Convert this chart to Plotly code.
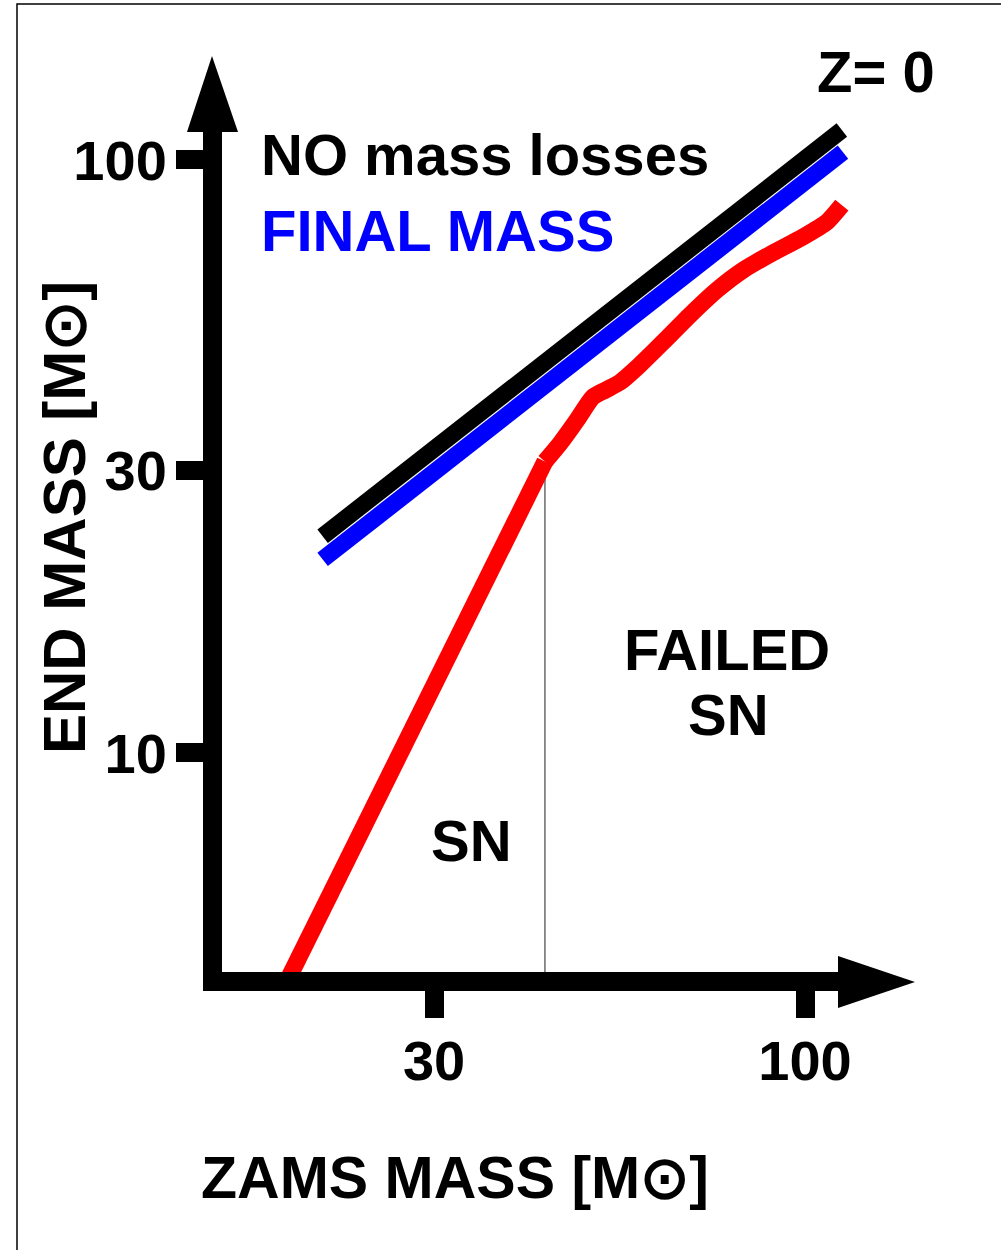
import plotly.graph_objects as go

# Z = 0 stars: ZAMS mass vs. mass at the end of the life (solar masses)
zams_no_loss = [20.9, 112.7]
end_no_loss = [23.2, 112.3]

zams_final = [20.9, 113.1]
end_final = [21.2, 103.1]

zams_sn = [18.6, 43.0]
end_sn = [4.11, 31.0]

zams_failed = [43.0, 45.2, 47.7, 50.2, 52.3, 54.9, 58.5, 63.1, 68.9, 75.2, 81.8, 90.1, 99.4, 107.4, 112.7]
end_failed = [31.0, 33.3, 36.4, 39.8, 40.9, 42.2, 45.1, 49.3, 54.8, 60.4, 65.2, 69.7, 74.2, 78.6, 83.9]

sn_boundary_zams = 43.0
sn_boundary_end = [4.0, 31.0]

x_tickvals = [30, 100]
x_ticktext = ["30", "100"]
y_tickvals = [10, 30, 100]
y_ticktext = ["10", "30", "100"]

# page and plot box, in pixels
W, H = 1001, 1250
L, R, T, B = 222, 860, 110, 972

FONT = "Liberation Sans, Arial, sans-serif"


def fx(p):
    return (p - L) / (R - L)


def fy(p):
    return (B - p) / (B - T)


fig = go.Figure()

fig.add_trace(go.Scatter(x=[sn_boundary_zams, sn_boundary_zams], y=sn_boundary_end,
                         mode="lines", line=dict(color="#444444", width=1.2),
                         hoverinfo="skip"))
fig.add_trace(go.Scatter(x=zams_no_loss, y=end_no_loss, mode="lines",
                         line=dict(color="#000000", width=17), name="NO mass losses"))
fig.add_trace(go.Scatter(x=zams_final, y=end_final, mode="lines",
                         line=dict(color="#0000ff", width=17), name="FINAL MASS"))
fig.add_trace(go.Scatter(x=zams_sn, y=end_sn, mode="lines",
                         line=dict(color="#ff0000", width=17), name="SN"))
fig.add_trace(go.Scatter(x=zams_failed, y=end_failed, mode="lines",
                         line=dict(color="#ff0000", width=17, shape="spline", smoothing=0.6),
                         name="FAILED SN"))

axis_common = dict(
    type="log", showgrid=False, zeroline=False,
    showline=True, linewidth=19, linecolor="#000000",
    ticks="outside", ticklen=27, tickwidth=19, tickcolor="#000000",
    tickfont=dict(family=FONT, size=56, color="#000000", weight="bold"),
)

fig.update_xaxes(range=[1.1783, 2.0775], tickvals=x_tickvals, ticktext=x_ticktext,
                 ticklabelstandoff=-5, **axis_common)
fig.update_yaxes(range=[0.6306, 2.0842], tickvals=y_tickvals, ticktext=y_ticktext,
                 ticklabelstandoff=-2, **axis_common)


def label(text, x, y, size=58, color="#000000", angle=0):
    fig.add_annotation(text=text, x=fx(x), y=fy(y), xref="paper", yref="paper",
                       xanchor="center", yanchor="middle", showarrow=False,
                       textangle=angle,
                       font=dict(family=FONT, size=size, color=color, weight="bold"))


label("Z= 0", 876, 72)
label("NO mass losses", 485, 155)
label("FINAL MASS", 437, 230, color="#0000ff")
label("FAILED", 727, 649)
label("SN", 728, 714)
label("SN", 471, 840)
label("ZAMS MASS [M\u2299]", 455, 1178, size=59)
label("END MASS [M\u2299]", 64, 518, size=60, angle=-90)


def path(points):
    return "M " + " L ".join(f"{fx(a):.5f},{fy(b):.5f}" for a, b in points) + " Z"


# arrowheads on the axes
fig.add_shape(type="path", xref="paper", yref="paper",
              path=path([(187, 132), (212, 56), (238, 132)]),
              fillcolor="#000000", line=dict(width=0))
fig.add_shape(type="path", xref="paper", yref="paper",
              path=path([(838, 956), (915, 982), (838, 1008)]),
              fillcolor="#000000", line=dict(width=0))

# frame lines along the top and left of the page
fig.add_shape(type="path", xref="paper", yref="paper",
              path=f"M {fx(17):.5f},{fy(1250):.5f} L {fx(17):.5f},{fy(4):.5f} L {fx(1001):.5f},{fy(4):.5f}",
              line=dict(color="#000000", width=1.5))

fig.update_layout(
    width=W, height=H,
    margin=dict(l=L, r=W - R, t=T, b=H - B),
    paper_bgcolor="#ffffff", plot_bgcolor="#ffffff",
    showlegend=False,
)

fig.write_html("out.html")
